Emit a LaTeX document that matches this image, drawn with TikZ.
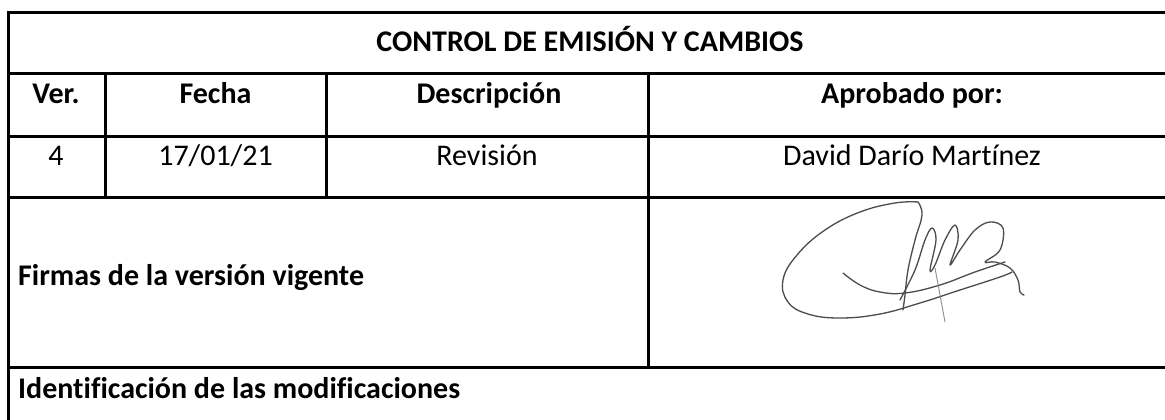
\documentclass[tikz,border=0pt]{standalone}
\usepackage{fontspec}
\setmainfont{Carlito}[Ligatures=NoCommon]
\begin{document}
\begin{tikzpicture}[x=1pt,y=-1pt,
  rule/.style={line width=3pt,line cap=rect},
  hdr/.style={font=\fontsize{30}{36}\selectfont\bfseries,inner sep=0pt,anchor=base},
  cell/.style={font=\fontsize{30}{36}\selectfont,inner sep=0pt,anchor=base},
  lbl/.style={font=\fontsize{30}{36}\selectfont\bfseries,inner sep=0pt,anchor=base west},
  sig/.style={draw=black!70,line width=1.3pt,line cap=round,line join=round}]
\useasboundingbox (0,0) rectangle (1165,420);
\fill[white] (0,0) rectangle (1165,420);
% grid
\draw[rule] (8.5,13) -- (1175,13);
\draw[rule] (8.5,74) -- (1175,74);
\draw[rule] (8.5,136) -- (1175,136);
\draw[rule] (8.5,197) -- (1175,197);
\draw[rule] (8.5,367) -- (1175,367);
\draw[rule] (8.5,13) -- (8.5,425);
\draw[rule] (105,74) -- (105,197);
\draw[rule] (326,74) -- (326,197);
\draw[rule] (648,74) -- (648,367);
% texts
\node[hdr] (title) at (590,52) {CONTROL DE EMISIÓN Y CAMBIOS};
\node[hdr] (hver) at (56,103) {Ver.};
\node[hdr] (hfecha) at (215.5,103) {Fecha};
\node[hdr] (hdesc) at (489,103) {Descripción};
\node[hdr] (hapr) at (912,103) {Aprobado por:};
\node[cell] (ver) at (56,165) {4};
\node[cell] (fecha) at (215.5,165) {17/01/21};
\node[cell] (desc) at (487,165) {Revisión};
\node[cell] (apr) at (912,165) {David Darío Martínez};
\node[lbl] (firmas) at (18,285) {Firmas de la versión vigente};
\node[lbl] (ident) at (18,398) {Identificación de las modificaciones};
% signature
\draw[sig] plot[smooth,tension=0.7] coordinates {(918,202) (895,203) (860,212) (825,230) (797,255) (783,280) (788,302) (808,314) (840,318) (880,314) (920,303) (960,290) (1000,277) (1012,272)};
\draw[sig] plot[smooth,tension=0.7] coordinates {(918,202) (922,215) (915,240) (908,270) (905,295) (903,310)};
\draw[sig] plot[smooth,tension=0.7] coordinates {(843,273) (860,285) (880,292) (905,293) (940,285) (975,272) (1005,262)};
\draw[sig] plot[smooth,tension=0.6] coordinates {(900,300) (915,270) (925,240) (932,228) (936,240) (930,270) (935,265) (945,240) (955,225) (958,240) (950,265) (960,250) (975,230) (990,222) (1003,228) (1000,250) (985,262) (995,262) (1010,268) (1018,280) (1020,292) (1024,295)};
\draw[sig,draw=black!45,line width=0.9pt] plot[smooth] coordinates {(935,268) (940,295) (945,322)};
\end{tikzpicture}
\end{document}
